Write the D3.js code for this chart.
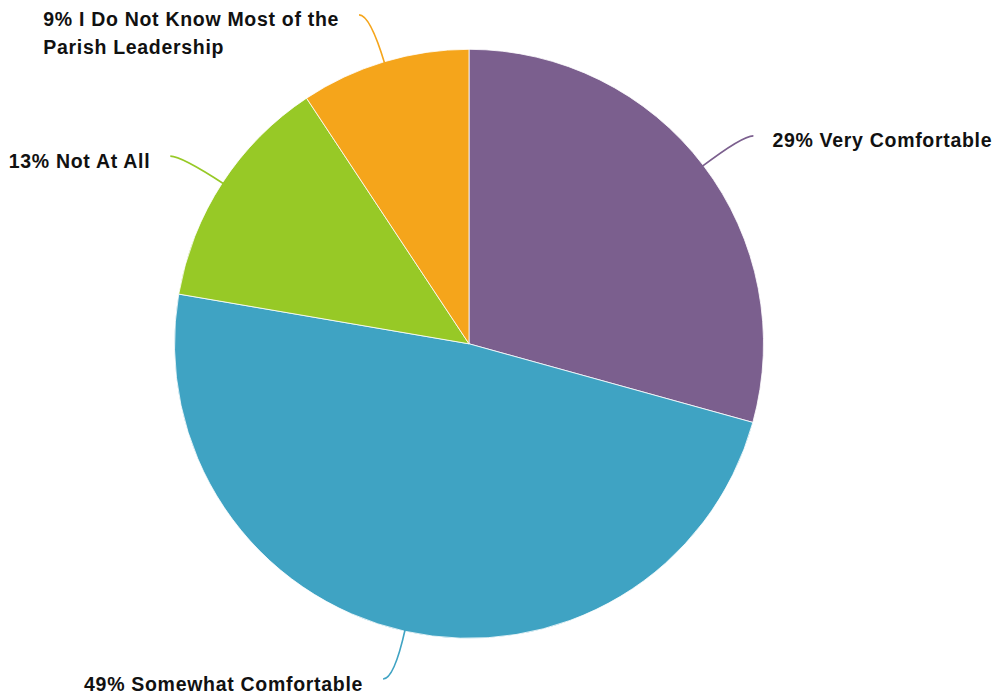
<!DOCTYPE html>
<html><head><meta charset="utf-8">
<script src="https://cdn.jsdelivr.net/npm/d3@7"></script>
<style>body{margin:0;background:#fff}svg{display:block}</style>
</head><body>
<svg id="chart" width="999" height="698"></svg>
<script>
const categories = ["Very Comfortable", "Somewhat Comfortable", "Not At All", "I Do Not Know Most of the Parish Leadership"];
const values = [29.3, 48.4, 13.0, 9.3];
const colors = ["#7B5F8E", "#3FA3C3", "#97C926", "#F5A51B"];
const labelLines = [["29% Very Comfortable"], ["49% Somewhat Comfortable"], ["13% Not At All"], ["9% I Do Not Know Most of the", "Parish Leadership"]];

const W = 999, H = 698;
const cx = 469, cy = 343.8, R = 294.5;
const svg = d3.select("#chart");
const g = svg.append("g").attr("transform", `translate(${cx},${cy})`);

const data = categories.map((c, i) => ({cat: c, value: values[i], color: colors[i], lines: labelLines[i]}));
const pie = d3.pie().value(d => d.value).sort(null);
const arcs = pie(data);
const arc = d3.arc().innerRadius(0).outerRadius(R);

g.selectAll("path.slice").data(arcs).join("path")
  .attr("class", "slice")
  .attr("d", arc)
  .attr("fill", d => d.data.color)
  .attr("stroke", "#fff").attr("stroke-width", 0.8);

const pt = (a, r) => [Math.sin(a) * r, -Math.cos(a) * r];

arcs.forEach(d => {
  const mid = (d.startAngle + d.endAngle) / 2;
  const p0 = pt(mid, R - 2);
  const p1 = pt(mid, R + 49);
  const right = Math.sin(mid) > 0;
  const p2 = [p1[0] + (right ? 11 : -11), p1[1]];
  const path = d3.path();
  path.moveTo(p0[0], p0[1]);
  path.quadraticCurveTo(p1[0], p1[1], p2[0], p2[1]);
  g.append("path").attr("d", path.toString())
    .attr("fill", "none").attr("stroke", d.data.color).attr("stroke-width", 1.6);

  const t = g.append("text")
    .attr("font-family", "'Liberation Sans', Arial, Helvetica, sans-serif")
    .attr("font-weight", "bold")
    .attr("font-size", 19.5)
    .attr("letter-spacing", 0.7)
    .attr("fill", "#111");
  d.data.lines.forEach((ln, i) => {
    t.append("tspan").attr("dy", i === 0 ? 0 : 28).text(ln);
  });
  const tspans = t.selectAll("tspan").nodes();
  const maxW = d3.max(tspans, n => n.getComputedTextLength());
  const x0 = right ? p2[0] + 19 : p2[0] - 20 - maxW;
  t.selectAll("tspan").attr("x", x0);
  t.attr("y", p2[1] + 11.5);
});
</script>
</body></html>
